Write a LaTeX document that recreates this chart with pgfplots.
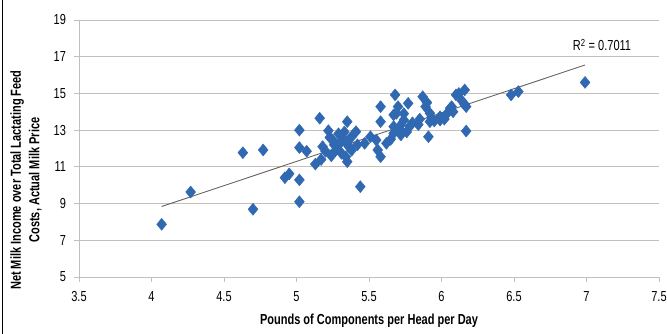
\documentclass[border=0pt]{standalone}
\usepackage{fontspec}
\setmainfont{Liberation Sans}[FakeStretch=0.76,Scale=1.45]
\usepackage{pgfplots}
\pgfplotsset{compat=1.18}
\definecolor{mk}{RGB}{48,105,178}
\definecolor{gridc}{RGB}{198,190,186}
\definecolor{trend}{RGB}{105,98,94}
\pgfplotstableread{
x y
4.07 7.87
4.27 9.63
4.63 11.77
4.77 11.92
4.70 8.69
4.92 10.41
4.95 10.62
5.02 10.29
5.02 9.10
5.02 13.00
5.02 12.05
5.07 11.85
5.16 13.65
5.13 11.15
5.17 11.40
5.18 12.10
5.20 11.85
5.22 12.97
5.25 12.46
5.28 12.00
5.30 12.30
5.32 12.55
5.35 13.46
5.35 12.28
5.38 12.64
5.31 11.74
5.34 11.55
5.35 11.28
5.38 11.90
5.41 12.92
5.42 12.20
5.44 9.92
5.47 12.28
5.51 12.64
5.55 12.46
5.56 11.92
5.58 11.55
5.58 14.28
5.58 13.46
5.62 12.28
5.65 12.50
5.67 13.83
5.67 13.19
5.67 12.83
5.69 13.92
5.68 14.92
5.70 14.28
5.71 13.19
5.74 13.55
5.76 12.90
5.72 12.74
5.77 14.46
5.80 13.40
5.85 13.60
5.84 13.30
5.87 14.82
5.89 14.28
5.90 14.50
5.91 12.64
5.92 13.92
5.92 13.46
5.93 13.70
5.95 13.50
5.99 13.55
5.99 13.73
6.02 13.60
6.04 13.92
6.06 14.19
6.07 14.28
6.10 14.92
6.12 15.00
6.16 15.19
6.17 14.28
6.16 14.40
6.17 12.95
6.48 14.92
6.53 15.10
6.99 15.60
5.24 11.60
5.29 12.80
5.26 12.20
5.23 12.60
5.33 12.90
5.27 11.90
5.36 12.10
5.72 13.00
5.74 13.90
5.78 13.20
6.08 14.00
6.14 14.60
}\datatable
\begin{document}
\begin{tikzpicture}[x=1pt,y=1pt]
\useasboundingbox (0,0) rectangle (667,334);
\draw[line width=1.2pt] (2.5,0) -- (2.5,334);
\begin{axis}[
  at={(79pt,57pt)}, anchor=south west,
  width=580pt, height=257pt, scale only axis,
  xmin=3.5, xmax=7.5, ymin=5, ymax=19,
  xtick={3.5,4,4.5,5,5.5,6,6.5,7,7.5},
  ytick={5,7,9,11,13,15,17,19},
  ymajorgrids, grid style={gridc, line width=0.8pt},
  axis x line=bottom, axis y line=left,
  axis line style={gridc, line width=0.8pt, -},
  tick align=outside, major tick length=5pt,
  tick style={gridc, line width=0.8pt},
  /pgf/number format/assume math mode=true,
  xticklabel style={yshift=-4pt},
  yticklabel style={xshift=-3pt},
  xlabel={\bfseries Pounds of Components per Head per Day},
  xlabel style={at={(rel axis cs:0.5,0)}, anchor=center, yshift=-44pt},
  ylabel={\bfseries Net Milk Income over Total Lactating Feed\\[4pt]\bfseries Costs, Actual Milk Price},
  ylabel style={align=center, at={([xshift=-53pt]rel axis cs:0,0.377)}, anchor=center},
  clip=false,
]
\addplot[only marks, mark=diamond*, mark size=6pt, mark options={xscale=1.1, fill=mk, draw=mk}] table[x=x,y=y] {\datatable};
\addplot[trend, line width=0.9pt] coordinates {(4.07,8.84) (6.99,16.55)};
\node[anchor=center, fill=white, inner sep=2pt] at (axis cs:7.107,17.64) {R\textsuperscript{2} = 0.7011};
\end{axis}
\end{tikzpicture}
\end{document}
